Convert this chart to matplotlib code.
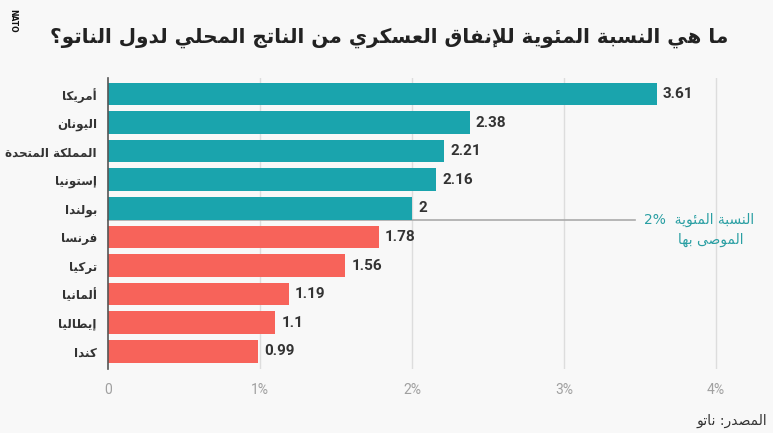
import matplotlib
matplotlib.use("Agg")
import matplotlib.pyplot as plt
from matplotlib.patches import Rectangle

# -----------------------------
# Data
# -----------------------------
countries = ["أمريكا", "اليونان", "المملكة المتحدة", "إستونيا", "بولندا",
             "فرنسا", "تركيا", "ألمانيا", "إيطاليا", "كندا"]
values = [3.61, 2.38, 2.21, 2.16, 2, 1.78, 1.56, 1.19, 1.1, 0.99]
value_labels = ["3.61", "2.38", "2.21", "2.16", "2", "1.78", "1.56", "1.19", "1.1", "0.99"]
x_ticks = [0, 1, 2, 3, 4]
x_tick_labels = ["0", "1%", "2%", "3%", "4%"]
target = 2.0

title = "ما هي النسبة المئوية للإنفاق العسكري من الناتج المحلي لدول الناتو؟"
note_line1 = "النسبة المئوية"
note_line2 = "الموصى بها"
source = "المصدر: ناتو"

TEAL = "#1aa4ad"
CORAL = "#f7635a"
TEXT = "#333333"

# -----------------------------
# Minimal Arabic shaping (presentation forms + visual order)
# -----------------------------
TWO = {'آ': 0xFE81, 'أ': 0xFE83, 'ؤ': 0xFE85, 'إ': 0xFE87, 'ا': 0xFE8D, 'ة': 0xFE93,
       'د': 0xFEA9, 'ذ': 0xFEAB, 'ر': 0xFEAD, 'ز': 0xFEAF, 'و': 0xFEED, 'ى': 0xFEEF}
FOUR = {'ئ': 0xFE89, 'ب': 0xFE8F, 'ت': 0xFE95, 'ث': 0xFE99, 'ج': 0xFE9D, 'ح': 0xFEA1,
        'خ': 0xFEA5, 'س': 0xFEB1, 'ش': 0xFEB5, 'ص': 0xFEB9, 'ض': 0xFEBD, 'ط': 0xFEC1,
        'ظ': 0xFEC5, 'ع': 0xFEC9, 'غ': 0xFECD, 'ف': 0xFED1, 'ق': 0xFED5, 'ك': 0xFED9,
        'ل': 0xFEDD, 'م': 0xFEE1, 'ن': 0xFEE5, 'ه': 0xFEE9, 'ي': 0xFEF1}
LAM_ALEF = {'آ': 0xFEF5, 'أ': 0xFEF7, 'إ': 0xFEF9, 'ا': 0xFEFB}


def ar(text):
    units = []
    i = 0
    while i < len(text):
        c = text[i]
        if c == 'ل' and i + 1 < len(text) and text[i + 1] in LAM_ALEF:
            units.append(('LA', text[i + 1]))
            i += 2
        else:
            units.append(('C', c))
            i += 1

    def dual(u):
        return u[0] == 'C' and u[1] in FOUR

    def joins(u):
        return u[0] == 'LA' or u[1] in FOUR or u[1] in TWO

    out = []
    for k, u in enumerate(units):
        prev = units[k - 1] if k > 0 else None
        nxt = units[k + 1] if k + 1 < len(units) else None
        jp = prev is not None and dual(prev) and joins(u)
        if u[0] == 'LA':
            out.append(chr(LAM_ALEF[u[1]] + (1 if jp else 0)))
            continue
        c = u[1]
        if c in FOUR:
            jn = nxt is not None and joins(nxt)
            idx = {(False, False): 0, (True, False): 1, (False, True): 2, (True, True): 3}[(jp, jn)]
            out.append(chr(FOUR[c] + idx))
        elif c in TWO:
            out.append(chr(TWO[c] + (1 if jp else 0)))
        else:
            out.append(c)
    return ''.join(out)[::-1]


# -----------------------------
# Figure
# -----------------------------
W, H = 780, 440
fig = plt.figure(figsize=(W / 100, H / 100), dpi=100)
fig.patch.set_facecolor("white")
fig.patches.append(Rectangle((0, 1 - 433 / H), 773 / W, 433 / H, transform=fig.transFigure,
                             facecolor="#f8f8f8", edgecolor="none", zorder=-10))

ax_left, ax_right = 108, 754
ax_top, ax_bottom = 78, 369
ax = fig.add_axes([ax_left / W, 1 - ax_bottom / H, (ax_right - ax_left) / W, (ax_bottom - ax_top) / H])
ax.set_facecolor("none")

n = len(countries)
ypos = list(range(n))
colors = [TEAL if v >= target else CORAL for v in values]
ax.barh(ypos, values, height=0.79, color=colors, zorder=3)

ax.set_xlim(0, 4.25)
ax.set_ylim(n - 1 + 0.62, -0.56)

ax.set_xticks(x_ticks)
ax.set_xticklabels(x_tick_labels, fontfamily="Roboto", fontsize=10, color="#a0a0a0")
ax.tick_params(axis="x", length=0, pad=10)
ax.set_yticks(ypos)
ax.set_yticklabels([ar(c) for c in countries], fontfamily="DejaVu Sans", fontweight="bold",
                   fontsize=8.6, color=TEXT)
ax.tick_params(axis="y", length=0, pad=8)

for t in x_ticks[1:]:
    ax.axvline(t, color="#dddddd", lw=1, zorder=1)
for s in ["top", "right", "bottom"]:
    ax.spines[s].set_visible(False)
ax.spines["left"].set_color("#555555")
ax.spines["left"].set_linewidth(1.2)
ax.spines["left"].set_zorder(4)

for y, v, lab in zip(ypos, values, value_labels):
    ax.text(v + 0.04, y, lab, va="center", ha="left", fontfamily="Roboto",
            fontweight="bold", fontsize=11, color=TEXT, zorder=5)

# 2% recommended line between the last teal and first coral bar
split = sum(1 for v in values if v >= target)
line_y = split - 0.5 - 0.1
ax.plot([0, 3.47], [line_y, line_y], color="#aaaaaa", lw=1.2, zorder=2, clip_on=False)
ax.text(4.25, line_y, "2%  " + ar(note_line1), ha="right", va="center", fontsize=10,
        fontfamily="DejaVu Sans", color="#2a9fa3", clip_on=False)
ax.text(4.18, line_y + 0.72, ar(note_line2), ha="right", va="center", fontsize=10,
        fontfamily="DejaVu Sans", color="#2a9fa3", clip_on=False)

fig.text(728 / W, 1 - 38 / H, ar(title), ha="right", va="center", fontsize=14.4,
         fontfamily="DejaVu Sans", fontweight="bold", color="#222222")
fig.text(767 / W, 1 - 421 / H, ar(source), ha="right", va="center", fontsize=10,
         fontfamily="DejaVu Sans", color="#333333")
fig.text(13 / W, 1 - 9 / H, "NATO", rotation=-90, ha="center", va="top", fontsize=5.5,
         fontweight="bold", color="#111111")

fig.savefig("out.png", dpi=100, facecolor=fig.get_facecolor())
